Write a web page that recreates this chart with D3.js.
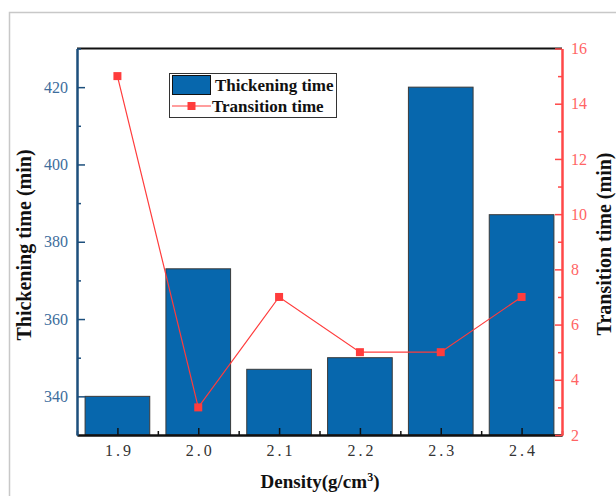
<!DOCTYPE html>
<html>
<head>
<meta charset="utf-8">
<title>Thickening / transition time</title>
<script src="https://cdn.jsdelivr.net/npm/d3@7/dist/d3.min.js"></script>
<style>
  * { margin: 0; padding: 0; }
  body { background: #fff; }
  #chart { width: 616px; height: 496px; }
</style>
</head>
<body>
<div id="chart"></div>
<script>
  // data
  var densities = [1.9, 2.0, 2.1, 2.2, 2.3, 2.4];
  var thickening = [340, 373, 347, 350, 420, 387];
  var transition = [15, 3, 7, 5, 5, 7];
  var leftTicks = [340, 360, 380, 400, 420];
  var rightTicks = [2, 4, 6, 8, 10, 12, 14, 16];

  var W = 616, H = 496;
  var plotL = 77, plotR = 562, plotT = 48.5, plotB = 435;

  var svg = d3.select('#chart').append('svg')
      .attr('width', W)
      .attr('height', H);

  // grey outer frame
  svg.append('path')
      .attr('d', 'M9.5 496 L9.5 12.5 L616 12.5')
      .attr('fill', 'none')
      .attr('stroke', '#c8c8c8')
      .attr('stroke-width', 1.5);

  var x = d3.scaleLinear().domain([1.85, 2.45]).range([plotL, plotR]);
  var yL = d3.scaleLinear().domain([330, 430]).range([plotB, plotT]);
  var yR = d3.scaleLinear().domain([2, 16]).range([plotB, plotT]);

  var barW = x(1.98) - x(1.9);

  // bars
  svg.selectAll('rect.bar').data(densities)
    .enter().append('rect')
      .attr('class', 'bar')
      .attr('x', function(d) { return x(d) - barW / 2; })
      .attr('y', function(d, i) { return yL(thickening[i]); })
      .attr('width', barW)
      .attr('height', function(d, i) { return plotB - yL(thickening[i]); })
      .attr('fill', '#0767ad')
      .attr('stroke', '#3a3a3a')
      .attr('stroke-width', 1);

  // top line
  svg.append('line')
      .attr('x1', plotL).attr('x2', plotR)
      .attr('y1', plotT).attr('y2', plotT)
      .attr('stroke', '#111').attr('stroke-width', 2);

  var serif = '"Liberation Serif", "DejaVu Serif", serif';

  // bottom axis
  var minorX = [1.85, 1.95, 2.05, 2.15, 2.25, 2.35, 2.45];
  var gxm = svg.append('g').attr('transform', 'translate(0,' + plotB + ')')
      .call(d3.axisBottom(x).tickValues(minorX).tickFormat('').tickSize(-4).tickSizeOuter(0));
  var gx = svg.append('g').attr('transform', 'translate(0,' + plotB + ')')
      .call(d3.axisBottom(x).tickValues(densities).tickFormat(d3.format('.1f'))
        .tickSize(-7).tickSizeOuter(0).tickPadding(10));
  [gxm, gx].forEach(function(g) {
    g.select('.domain').attr('stroke', '#111').attr('stroke-width', 2);
    g.selectAll('.tick line').attr('stroke', '#111').attr('stroke-width', 1.5);
  });
  gx.selectAll('.tick text')
      .attr('font-family', serif)
      .attr('font-size', 16)
      .attr('fill', '#333')
      .attr('letter-spacing', '3px')
      .attr('dx', 1.5);

  // left axis
  var minorL = [350, 370, 390, 410, 430];
  var gym = svg.append('g').attr('transform', 'translate(' + plotL + ',0)')
      .call(d3.axisLeft(yL).tickValues(minorL).tickFormat('').tickSize(-4).tickSizeOuter(0));
  var gy = svg.append('g').attr('transform', 'translate(' + plotL + ',0)')
      .call(d3.axisLeft(yL).tickValues(leftTicks).tickSize(-8).tickSizeOuter(0).tickPadding(9));
  [gym, gy].forEach(function(g) {
    g.select('.domain').attr('stroke', '#1d4f7c').attr('stroke-width', 2);
    g.selectAll('.tick line').attr('stroke', '#1d4f7c').attr('stroke-width', 1.5);
  });
  gy.selectAll('.tick text')
      .attr('font-family', serif)
      .attr('font-size', 16)
      .attr('fill', '#3d6d9c');

  // right axis
  var minorR = [3, 5, 7, 9, 11, 13, 15];
  var grm = svg.append('g').attr('transform', 'translate(' + plotR + ',0)')
      .call(d3.axisRight(yR).tickValues(minorR).tickFormat('').tickSize(-4).tickSizeOuter(0));
  var gr = svg.append('g').attr('transform', 'translate(' + plotR + ',0)')
      .call(d3.axisRight(yR).tickValues(rightTicks).tickSize(-7).tickSizeOuter(0).tickPadding(9));
  [grm, gr].forEach(function(g) {
    g.select('.domain').attr('stroke', '#ff4848').attr('stroke-width', 2);
    g.selectAll('.tick line').attr('stroke', '#ff4848').attr('stroke-width', 1.5);
  });
  gr.selectAll('.tick text')
      .attr('font-family', serif)
      .attr('font-size', 16)
      .attr('fill', '#ff6464');

  // transition line
  var line = d3.line()
      .x(function(d) { return x(d); })
      .y(function(d, i) { return yR(transition[i]); });
  svg.append('path')
      .datum(densities)
      .attr('d', line)
      .attr('fill', 'none')
      .attr('stroke', '#ff3c3c')
      .attr('stroke-width', 1.2);
  svg.selectAll('rect.mk').data(densities)
    .enter().append('rect')
      .attr('class', 'mk')
      .attr('x', function(d) { return x(d) - 4; })
      .attr('y', function(d, i) { return yR(transition[i]) - 4; })
      .attr('width', 8).attr('height', 8)
      .attr('fill', '#ff3c3c');

  // axis titles
  svg.append('text')
      .attr('transform', 'translate(31,245) rotate(-90)')
      .attr('text-anchor', 'middle')
      .attr('font-family', serif).attr('font-weight', 'bold').attr('font-size', 20)
      .attr('fill', '#111')
      .text('Thickening time (min)');
  svg.append('text')
      .attr('transform', 'translate(611,244) rotate(-90)')
      .attr('text-anchor', 'middle')
      .attr('font-family', serif).attr('font-weight', 'bold').attr('font-size', 20)
      .attr('fill', '#111')
      .text('Transition time (min)');
  var xt = svg.append('text')
      .attr('x', 320).attr('y', 488)
      .attr('text-anchor', 'middle')
      .attr('font-family', serif).attr('font-weight', 'bold').attr('font-size', 19)
      .attr('fill', '#111');
  xt.append('tspan').text('Density(g/cm');
  xt.append('tspan').attr('dy', -7).attr('font-size', 12).text('3');
  xt.append('tspan').attr('dy', 7).text(')');

  // legend
  var lg = svg.append('g').attr('transform', 'translate(169,73)');
  lg.append('rect')
      .attr('x', 0.5).attr('y', 0.5).attr('width', 167).attr('height', 44)
      .attr('fill', '#fff').attr('stroke', '#333').attr('stroke-width', 1);
  lg.append('rect')
      .attr('x', 3.5).attr('y', 2.5).attr('width', 38).attr('height', 19)
      .attr('fill', '#0767ad').attr('stroke', '#111').attr('stroke-width', 1);
  lg.append('text')
      .attr('x', 46).attr('y', 18)
      .attr('font-family', serif).attr('font-weight', 'bold').attr('font-size', 17)
      .attr('fill', '#111')
      .text('Thickening time');
  lg.append('line')
      .attr('x1', 3).attr('x2', 42).attr('y1', 33).attr('y2', 33)
      .attr('stroke', '#ff3c3c').attr('stroke-width', 1.2);
  lg.append('rect')
      .attr('x', 18.5).attr('y', 29).attr('width', 8).attr('height', 8)
      .attr('fill', '#ff3c3c');
  lg.append('text')
      .attr('x', 43).attr('y', 39)
      .attr('font-family', serif).attr('font-weight', 'bold').attr('font-size', 17)
      .attr('fill', '#111')
      .text('Transition time');
</script>
</body>
</html>
